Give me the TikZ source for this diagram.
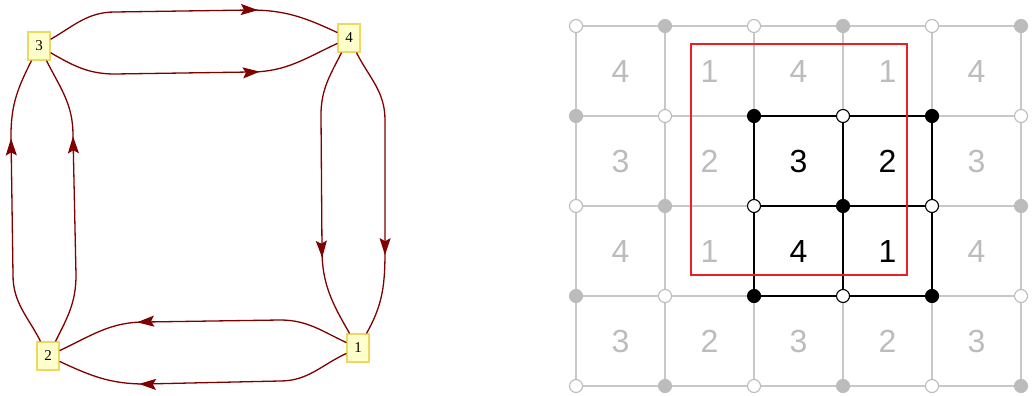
\documentclass[tikz,border=0pt]{standalone}
\usepackage{fontspec}
\setmainfont{Liberation Serif}
\setsansfont{Liberation Sans}
\usetikzlibrary{shapes,arrows.meta,decorations.markings}

\definecolor{edgered}{RGB}{128,0,0}
\definecolor{boxfill}{RGB}{255,255,204}
\definecolor{boxline}{RGB}{238,216,96}
\definecolor{gridgray}{RGB}{200,200,200}
\definecolor{numgray}{RGB}{188,188,188}
\definecolor{framered}{RGB}{232,32,36}

\begin{document}
\begin{tikzpicture}[x=1pt, y=-1pt,
  vertex/.style={draw=boxline, fill=boxfill, line width=1.3pt, minimum width=22pt,
    minimum height=28pt, inner sep=0pt, font=\fontsize{15}{15}\selectfont},
  edge/.style={color=edgered, line width=1.3pt, postaction={decorate},
    decoration={markings, mark=at position 0.72 with {\arrow{Stealth[length=17pt,width=11pt,inset=3pt]}}}},
  gridline/.style={gridgray, line width=1.4pt},
  innerline/.style={black, line width=1.4pt},
  dot/.style={circle, line width=1.1pt, minimum size=13pt, inner sep=0pt},
  cellnum/.style={font=\fontsize{32}{32}\sffamily}]
\useasboundingbox (0,0) rectangle (1033,396);

% left: the graph
\node[vertex] (n3) at (39,46) {3};
\node[vertex] (n4) at (349,38) {4};
\node[vertex] (n2) at (48,356) {2};
\node[vertex] (n1) at (358,348) {1};

% 3 -> 4
\draw[edge] (n3) to[out=30,in=180] (115,12) -- (250,10) to[out=0,in=155] (n4);
\draw[edge] (n3) to[out=-30,in=180] (115,74) -- (250,72) to[out=0,in=-155] (n4);
% 4 -> 1
\draw[edge] (n4) to[out=-117,in=90] (321,115) -- (322,250) to[out=-90,in=120] (n1);
\draw[edge] (n4) to[out=-63,in=90] (385,120) -- (385,250) to[out=-90,in=60] (n1);
% 1 -> 2
\draw[edge] (n1) to[out=155,in=0] (280,320) -- (145,322) to[out=180,in=25] (n2);
\draw[edge] (n1) to[out=-155,in=0] (280,381) -- (145,384) to[out=180,in=-25] (n2);
% 2 -> 3
\draw[edge] (n2) to[out=117,in=-90] (13,275) -- (11,135) to[out=90,in=-117] (n3);
\draw[edge] (n2) to[out=63,in=-90] (76,275) -- (73,135) to[out=90,in=-63] (n3);

% right: the grid
\foreach \i in {0,...,5} {
  \foreach \j in {0,...,4} {
    \coordinate (g-\i-\j) at (576+89*\i, 26+90*\j);
  }
}
\foreach \j in {0,...,4} {
  \draw[gridline] (g-0-\j) -- (g-5-\j);
}
\foreach \i in {0,...,5} {
  \draw[gridline] (g-\i-0) -- (g-\i-4);
}
\foreach \j in {1,2,3} {
  \draw[innerline] (g-2-\j) -- (g-4-\j);
}
\foreach \i in {2,3,4} {
  \draw[innerline] (g-\i-1) -- (g-\i-3);
}

% cell numbers (4 1 / 3 2 pattern)
\foreach \i in {0,...,4} {
  \foreach \j in {0,...,3} {
    \pgfmathtruncatemacro{\n}{mod(\j,2)==0 ? (mod(\i,2)==0 ? 4 : 1) : (mod(\i,2)==0 ? 3 : 2)}
    \pgfmathtruncatemacro{\inner}{(\i>1)&&(\i<4)&&(\j>0)&&(\j<3)}
    \ifnum\inner=1 \def\nc{black}\else \def\nc{numgray}\fi
    \node[cellnum, text=\nc] (c-\i-\j) at (620.5+89*\i, 71+90*\j) {\n};
  }
}

% corner dots
\foreach \i in {0,...,5} {
  \foreach \j in {0,...,4} {
    \pgfmathtruncatemacro{\odd}{mod(\i+\j,2)}
    \pgfmathtruncatemacro{\inner}{(\i>1)&&(\i<5)&&(\j>0)&&(\j<4)}
    \ifnum\inner=1 \def\dc{black}\else \def\dc{numgray}\fi
    \ifnum\odd=1 \def\df{\dc}\else \def\df{white}\fi
    \node[dot, draw=\dc, fill=\df] (d-\i-\j) at (g-\i-\j) {};
  }
}

\draw[framered, line width=2.9pt] (691,44) rectangle (907,275);
\end{tikzpicture}
\end{document}
